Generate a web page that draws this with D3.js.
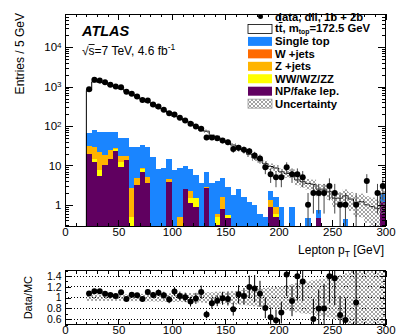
<!DOCTYPE html>
<html><head><meta charset="utf-8">
<script src="https://cdn.jsdelivr.net/npm/d3@7"></script>
<style>
html,body{margin:0;padding:0;background:#fff;}
svg{display:block;font-family:"Liberation Sans",Arial,Helvetica,sans-serif;}
</style>
</head><body>
<svg id="c" width="407" height="335"></svg>
<script>
// ---------------- data ----------------
const binLow = [20,25,30,35,40,45,50,55,60,65,70,75,80,85,90,95,100,105,110,115,120,125,130,135,140,145,150,155,160,165,170,175,180,185,190,195,200,205,210,215,220,225,230,235,240,245,250,255,260,265,270,275,280,285,290,295];
const binWidth = 5;
const dataCounts = [865,1489,1428,1300,1111,1007,971,738,657,561,
  462,444,351,312,258,212,196,162,138,114,
  97,86,51,51,49,43,39,26,28,25,
  23,18,15,9,6,5,5,9,6,6,
  5,1,2,2,2,3,2,1,1,0,
  1,0,4,0,2,3];
const dataErr = [29,39,38,36,33,32,31,27,26,24,
  21.5,21,19,17.7,16,14.6,14,12.7,11.7,10.7,
  9.8,9.3,7.1,7.1,7,6.6,6.2,5.1,5.3,5,
  4.8,4.2,3.9,3,2.4,2.2,2.2,3,2.4,2.4,
  2.2,1,1.4,1.4,1.4,1.7,1.4,1,1,0,
  1,0,2,0,1.4,1.7];
const mcTotal = [805,1330,1275,1215,1058,978,883,757,623,537,
  474,402,334,286,247,220,176,157,137,123,
  98.5,78,74,57,52,43.5,40,33,26.4,24.3,
  19.2,15.4,14,11.1,9.4,8.6,6.9,6.3,6.4,4.3,
  3.85,3.5,3.3,2.5,2.5,2.15,1.47,1.47,1.7,1.4,
  1.1,1.2,1.0,0.9,0.8,1.95];
const npFake = [19,12.5,5.4,10.5,14.5,23.5,9,14,0,3.2,
  7,3.5,0,0,0,3.9,0,0,2.5,1.1,
  0.86,0,2.6,0,0.3,0.78,0.45,0,0,0,
  0,0,0,0,0.9,0.5,0,0,0,0,
  0,0,0,0.45,0,0,0,0,0,0,
  0,0,0,0,0,1.15];
const dibosons = [0,2,2.3,0,0,2,3,0,0.5,0,
  1.2,0,0,0,0,0,0,0,0,0.4,
  0.6,0,0,0,0.2,0,0.1,0,0,0,
  0,0,0,0,0,0.1,0,0,0,0,
  0,0,0,0,0,0,0,0,0,0,
  0,0,0,0,0,0];
const zJets = [12.5,14.5,14.8,8,10.5,2,5,3,2.1,1.6,
  0.6,1.5,0,0,0,0.5,0,0.5,0,0.7,
  0,0,0.3,0,0.1,0.82,0,0,0,0,
  0,0,0,0,0.45,0.3,0,0,0,0,
  0,0,0,0,0,0,0,0,0,0,
  0,0,0,0,0,0];
const wJets = [0,0,0,0,0,0,0,0,0,0,
  0,0,0,0,0,0,0,0,0,0,
  0,0,0,0,0,0,0,0,0,0,
  0,0,0,0,0,0,0,0,0,0,
  0,0,0,0,0,0,0,0,0,0,
  0,0,0,0,0,0];
const singleTop = [35.5,51,49.5,53.5,45,42.5,32,33,26.4,24.2,
  25.2,24,16,8.3,8.5,10.1,7.7,8,6.9,5.8,
  4.24,3.5,4.1,3.5,3.4,3.1,2.25,1.8,2.5,1.6,
  1.2,1.0,0.6,0.5,0.95,0.7,0.9,0,0.9,0,
  0,0.45,0,0.27,0,0,0,0,0.43,0,
  0,0,0,0,0,0.75];
const relUnc = [0.06,0.06,0.06,0.06,0.06,0.06,0.06,0.06,0.065,0.065,
  0.07,0.07,0.07,0.075,0.075,0.08,0.08,0.08,0.085,0.085,
  0.09,0.09,0.1,0.1,0.11,0.11,0.12,0.12,0.13,0.14,
  0.15,0.16,0.17,0.18,0.19,0.2,0.21,0.23,0.25,0.27,
  0.29,0.3,0.32,0.34,0.35,0.37,0.4,0.42,0.45,0.5,
  0.55,0.6,0.65,0.7,0.7,0.7];
const ratioErr = [0.035,0.03,0.03,0.03,0.03,0.033,0.035,0.036,0.04,0.043,
  0.045,0.05,0.055,0.06,0.065,0.066,0.08,0.08,0.085,0.09,
  0.1,0.12,0.07,0.1,0.1,0.12,0.12,0.12,0.17,0.15,
  0.21,0.25,0.24,0.19,0.18,0.2,0.2,0.4,0.28,0.45,
  0.36,0,0.37,0.35,0.45,0.5,0.5,0.35,0.4,0,
  0.8,0,0,0,0,0];

const xTickVals = [0,50,100,150,200,250,300];
const xTickLabels = ["0","50","100","150","200","250","300"];
const yTickVals = [1,10,100,1000,10000];
const yTickBase = ["1","10","10","10","10"];
const yTickExp = ["","","2","3","4"];
const ratioTickVals = [0.6,0.8,1,1.2,1.4];
const ratioTickLabels = ["0.6","0.8","1","1.2","1.4"];

const legendLabels = ["data, dil, 1b + 2b","tt","Single top","W +jets","Z +jets","WW/WZ/ZZ","NP/fake lep.","Uncertainty"];
const colors = {st:"#1a85ff", w:"#ff6a00", z:"#ffb400", ww:"#ffff00", np:"#600060"};

// ---------------- layout ----------------
const L = 65, R = 385.5;
const mainTop = 14, mainBottom = 226;
const ratioTop = 270.6, ratioBottom = 324.7;

const x = d3.scaleLinear([0,300],[L,R]);
const y = d3.scaleLog([0.29,7e4],[mainBottom,mainTop]).clamp(true);
const r = d3.scaleLinear([0.5,1.5],[ratioBottom,ratioTop]).clamp(true);

const svg = d3.select("#c");
const defs = svg.append("defs");
const pat = defs.append("pattern").attr("id","hatch").attr("patternUnits","userSpaceOnUse")
  .attr("width",4).attr("height",4);
pat.append("path").attr("d","M0,0 L4,4 M4,0 L0,4 M-1,3 L1,5 M3,-1 L5,1 M-1,1 L1,-1 M3,5 L5,3")
  .attr("stroke","#7a7a7a").attr("stroke-width",0.7).attr("fill","none");
defs.append("clipPath").attr("id","clipMain").append("rect")
  .attr("x",L).attr("y",mainTop).attr("width",R-L).attr("height",mainBottom-mainTop);
defs.append("clipPath").attr("id","clipRatio").append("rect")
  .attr("x",L).attr("y",ratioTop).attr("width",R-L).attr("height",ratioBottom-ratioTop);

const bins = binLow.map((b,i)=>{
  const np = npFake[i], ww = np + dibosons[i], z = ww + zJets[i], w = z + wJets[i], st = w + singleTop[i];
  return {i, lo:b, hi:b+binWidth, c:b+binWidth/2, np, ww, z, w, st, mc:mcTotal[i],
          data:dataCounts[i], derr:dataErr[i], unc:relUnc[i], rerr:ratioErr[i]};
});

// ---------------- main panel ----------------
const gm = svg.append("g").attr("clip-path","url(#clipMain)");
const layers = [["st",colors.st],["w",colors.w],["z",colors.z],["ww",colors.ww],["np",colors.np]];
layers.forEach(([key,col])=>{
  gm.append("g").selectAll("rect").data(bins.filter(d=>d[key]>0)).join("rect")
    .attr("x",d=>x(d.lo)).attr("width",d=>x(d.hi)-x(d.lo))
    .attr("y",d=>y(d[key])).attr("height",d=>mainBottom-y(d[key]))
    .attr("fill",col).attr("shape-rendering","crispEdges");
});
// ttbar outline (stack total)
let p = d3.path();
p.moveTo(x(bins[0].lo), mainBottom);
bins.forEach(d=>{ p.lineTo(x(d.lo), y(d.mc)); p.lineTo(x(d.hi), y(d.mc)); });
p.lineTo(x(bins[bins.length-1].hi), mainBottom);
gm.append("path").attr("d",p.toString()).attr("fill","none").attr("stroke","#000").attr("stroke-width",1);
// uncertainty band
gm.append("g").selectAll("rect").data(bins).join("rect")
  .attr("x",d=>x(d.lo)).attr("width",d=>x(d.hi)-x(d.lo))
  .attr("y",d=>y(d.mc*(1+d.unc))).attr("height",d=>y(Math.max(d.mc*(1-d.unc),0.05))-y(d.mc*(1+d.unc)))
  .attr("fill","url(#hatch)");
// data
const dpts = bins.filter(d=>d.data>0);
gm.append("g").selectAll("line").data(dpts).join("line")
  .attr("x1",d=>x(d.c)).attr("x2",d=>x(d.c))
  .attr("y1",d=>y(d.data+d.derr)).attr("y2",d=>y(Math.max(d.data-d.derr,0.05)))
  .attr("stroke","#444").attr("stroke-width",1);
gm.append("g").selectAll("circle").data(dpts).join("circle")
  .attr("cx",d=>x(d.c)).attr("cy",d=>y(d.data)).attr("r",3).attr("fill","#000");

// ---------------- axes helpers ----------------
function ticksStyle(g){ g.select(".domain").remove(); g.selectAll("line").attr("stroke","#000").attr("shape-rendering","crispEdges"); }
const xMinor = d3.range(0,301,10);

function xAxes(top,bottom,withLabels,pad){
  svg.append("g").attr("transform",`translate(0,${bottom})`)
    .call(d3.axisBottom(x).tickValues(xMinor).tickSize(-3).tickFormat("")).call(ticksStyle);
  const gb = svg.append("g").attr("transform",`translate(0,${bottom})`)
    .call(d3.axisBottom(x).tickValues(xTickVals).tickSize(-6).tickPadding(pad)
      .tickFormat((d,i)=>withLabels?xTickLabels[i]:"")).call(ticksStyle);
  gb.selectAll("text").attr("font-size","11.5px").attr("fill","#000")
    .attr("font-family",'"Liberation Sans",Arial,sans-serif');
  svg.append("g").attr("transform",`translate(0,${top})`)
    .call(d3.axisTop(x).tickValues(xMinor).tickSize(-3).tickFormat("")).call(ticksStyle);
  svg.append("g").attr("transform",`translate(0,${top})`)
    .call(d3.axisTop(x).tickValues(xTickVals).tickSize(-6).tickFormat("")).call(ticksStyle);
}
xAxes(mainTop, mainBottom, true, 2);

// y log axis
const yMinor = [];
[0.1,1,10,100,1000,10000].forEach(dec=>{ for(let m=2;m<=9;m++){ const v=dec*m; if(v>=0.29 && v<=7e4) yMinor.push(v);} });
[["left",L,d3.axisLeft],["right",R,d3.axisRight]].forEach(([side,pos,ax])=>{
  svg.append("g").attr("transform",`translate(${pos},0)`)
    .call(ax(y).tickValues(yMinor).tickSize(-4).tickFormat("")).call(ticksStyle);
  svg.append("g").attr("transform",`translate(${pos},0)`)
    .call(ax(y).tickValues(yTickVals).tickSize(-8).tickFormat("")).call(ticksStyle);
});
const yl = svg.append("g").selectAll("text").data(yTickVals).join("text")
  .attr("x",61.5).attr("y",d=>y(d)).attr("dy","0.36em").attr("text-anchor","end")
  .attr("font-size","11.5px").attr("fill","#000");
yl.each(function(d,i){
  const t = d3.select(this);
  t.append("tspan").text(yTickBase[i]);
  if(yTickExp[i]) t.append("tspan").attr("dy","-0.45em").attr("font-size","8px").text(yTickExp[i]);
});

// frame
svg.append("rect").attr("x",L).attr("y",mainTop).attr("width",R-L).attr("height",mainBottom-mainTop)
  .attr("fill","none").attr("stroke","#000").attr("stroke-width",1).attr("shape-rendering","crispEdges");

function overline(textSel, idx, up, w){
  const n = textSel.node();
  const s = n.getStartPositionOfChar(idx), e = n.getEndPositionOfChar(idx);
  svg.append("line").attr("x1",s.x).attr("x2",e.x).attr("y1",s.y-up).attr("y2",s.y-up)
    .attr("stroke","#000").attr("stroke-width",w||1);
}

// titles
svg.append("text").attr("transform",`translate(24,${mainTop-1}) rotate(-90)`).attr("text-anchor","end")
  .attr("font-size","12px").text("Entries / 5 GeV");
const xt = svg.append("text").attr("x",384).attr("y",254).attr("text-anchor","end").attr("font-size","12px");
xt.append("tspan").text("Lepton p");
xt.append("tspan").attr("dy","3").attr("font-size","8.5px").text("T");
xt.append("tspan").attr("dy","-3").text(" [GeV]");

// ATLAS labels
svg.append("text").attr("x",82).attr("y",36).attr("font-size","14.5px").attr("font-weight","bold")
  .attr("font-style","italic").text("ATLAS");
const en = svg.append("text").attr("x",82).attr("y",55).attr("font-size","12px");
en.append("tspan").text("\u221As");
en.append("tspan").text("=7 TeV, 4.6 fb");
en.append("tspan").attr("dy","-5").attr("font-size","8.5px").text("-1");
overline(en, 1, 10.5, 0.9);

// legend
const lg = svg.append("g");
const rowY = i => 16.5 + i*12.45;
const lgBox = (i,fill,stroke)=> lg.append("rect").attr("x",248).attr("y",rowY(i)-4.5).attr("width",24).attr("height",9)
  .attr("fill",fill).attr("stroke",stroke||"none").attr("stroke-width",stroke?0.8:0);
lg.append("circle").attr("cx",260.5).attr("cy",rowY(0)).attr("r",2.5).attr("fill","#000");
lgBox(1,"#fff","#000");
lgBox(2,colors.st); lgBox(3,colors.w); lgBox(4,colors.z); lgBox(5,colors.ww); lgBox(6,colors.np);
lgBox(7,"url(#hatch)","#999");
legendLabels.forEach((t,i)=>{
  const tx = lg.append("text").attr("x",275).attr("y",rowY(i) + (i===1?-1.2:0)).attr("dy","0.36em")
    .attr("font-size","11.3px").attr("font-weight","bold");
  if(i===1){
    tx.append("tspan").text("tt, m");
    tx.append("tspan").attr("dy","1.8").attr("font-size","6.8px").text("top");
    tx.append("tspan").attr("dy","-1.8").text("=172.5 GeV");
    overline(tx, 1, 9.3, 1);
  } else tx.text(t);
});

// ---------------- ratio panel ----------------
const gr = svg.append("g").attr("clip-path","url(#clipRatio)");
gr.append("g").selectAll("line").data(ratioTickVals).join("line")
  .attr("x1",L).attr("x2",R).attr("y1",d=>r(d)).attr("y2",d=>r(d))
  .attr("stroke","#000").attr("stroke-width",1).attr("stroke-dasharray","1,2").attr("shape-rendering","crispEdges");
gr.append("g").selectAll("rect").data(bins).join("rect")
  .attr("x",d=>x(d.lo)).attr("width",d=>x(d.hi)-x(d.lo))
  .attr("y",d=>r(1+d.unc)).attr("height",d=>r(1-d.unc)-r(1+d.unc))
  .attr("fill","url(#hatch)");
const rpts = bins.filter(d=>d.data>0 && d.data/d.mc>=0.5 && d.data/d.mc<=1.5);
gr.append("g").selectAll("line").data(rpts).join("line")
  .attr("x1",d=>x(d.c)).attr("x2",d=>x(d.c))
  .attr("y1",d=>r(d.data/d.mc+d.rerr)).attr("y2",d=>r(d.data/d.mc-d.rerr))
  .attr("stroke","#000").attr("stroke-width",1);
gr.append("g").selectAll("circle").data(rpts).join("circle")
  .attr("cx",d=>x(d.c)).attr("cy",d=>r(d.data/d.mc)).attr("r",3).attr("fill","#000");

xAxes(ratioTop, ratioBottom, true, 1);
const rMinor = d3.range(0.5,1.5001,0.1);
[[L,d3.axisLeft],[R,d3.axisRight]].forEach(([pos,ax])=>{
  svg.append("g").attr("transform",`translate(${pos},0)`)
    .call(ax(r).tickValues(rMinor).tickSize(-3).tickFormat("")).call(ticksStyle);
  svg.append("g").attr("transform",`translate(${pos},0)`)
    .call(ax(r).tickValues(ratioTickVals).tickSize(-6).tickFormat("")).call(ticksStyle);
});
svg.append("g").selectAll("text").data(ratioTickVals).join("text")
  .attr("x",61.5).attr("y",d=>r(d)).attr("dy","0.36em").attr("text-anchor","end")
  .attr("font-size","10.5px").text((d,i)=>ratioTickLabels[i]);
svg.append("rect").attr("x",L).attr("y",ratioTop).attr("width",R-L).attr("height",ratioBottom-ratioTop)
  .attr("fill","none").attr("stroke","#000").attr("stroke-width",1).attr("shape-rendering","crispEdges");
svg.append("text").attr("transform",`translate(32,${(ratioTop+ratioBottom)/2}) rotate(-90)`)
  .attr("text-anchor","middle").attr("font-size","11px").text("Data/MC");
</script>
</body></html>
